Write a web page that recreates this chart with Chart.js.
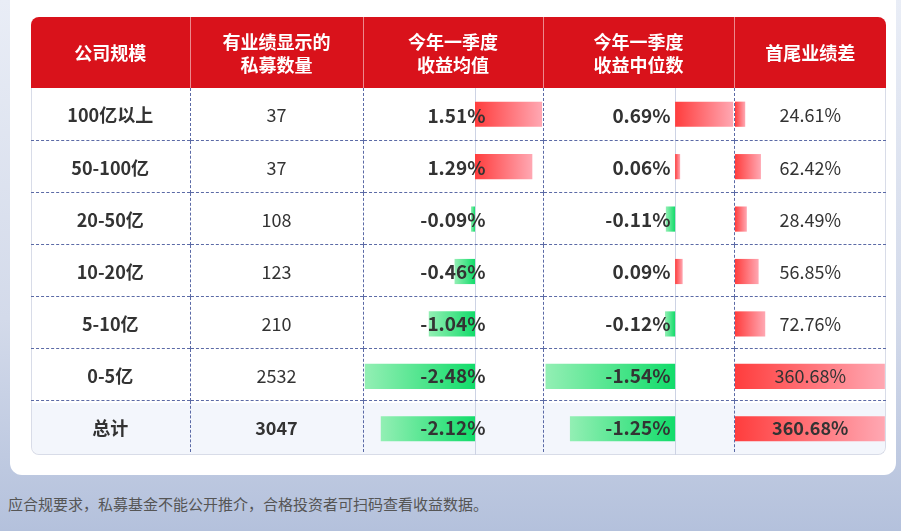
<!DOCTYPE html>
<html><head><meta charset="utf-8">
<script src="https://cdn.jsdelivr.net/npm/chart.js@4"></script>
<style>
body{margin:0;width:901px;height:531px;overflow:hidden;background:linear-gradient(180deg,#e9edf6 0%,#d3daea 60%,#b4c1dc 100%);font-family:"Noto Sans CJK SC","Noto Sans",sans-serif;position:relative}
#card{position:absolute;left:10px;top:-12px;width:886px;height:487px;background:#fff;border-radius:12px}
#head{position:absolute;left:31px;top:17px;width:855px;height:71px;background:#d9121b;border-radius:8px 8px 0 0}
#body{position:absolute;left:31px;top:88px;width:853px;height:366px;border:1px solid #d8dce8;border-top:none;border-radius:0 0 8px 8px}
#lastbg{position:absolute;left:32px;top:403px;width:853px;height:51px;background:#f3f6fc;border-radius:0 0 8px 8px}
canvas{position:absolute}
table{position:absolute;left:31px;top:17px;border-collapse:collapse;table-layout:fixed;z-index:3}
td,th{padding:0;text-align:center;font-size:18px;color:#333;height:51px}
th{color:#fff;font-weight:bold;height:71px;line-height:23px;font-size:18px;border-left:1px solid rgba(255,255,255,.5)}
th:first-child{border-left:none}
td{border-top:1px dashed #5b6aa6;border-left:1px dashed #5b6aa6}
tr:nth-child(2) td{border-top:none;height:52px}
td:first-child{border-left:none;font-weight:bold}
td.m{text-align:right;padding-right:57px;font-weight:bold;font-size:19px}
td.d{text-align:right;padding-right:63px;font-weight:bold;font-size:19px}
tr.total td{font-weight:bold}
#foot{position:absolute;left:8px;top:493px;font-size:15px;color:#555}
</style></head>
<body>
<div id="card"></div>
<div id="head"></div>
<div id="lastbg"></div>
<div id="body"></div>
<canvas id="c1" style="left:363px;top:88px;width:180px;height:367px;z-index:2"></canvas>
<canvas id="c2" style="left:543px;top:88px;width:191px;height:367px;z-index:2"></canvas>
<canvas id="c3" style="left:735px;top:88px;width:150px;height:367px;z-index:2"></canvas>
<table id="tbl"></table>
<div id="foot">应合规要求，私募基金不能公开推介，合格投资者可扫码查看收益数据。</div>
<script>
const headers = ["公司规模", "有业绩显示的<br>私募数量", "今年一季度<br>收益均值", "今年一季度<br>收益中位数", "首尾业绩差"];
const categories = ["100亿以上", "50-100亿", "20-50亿", "10-20亿", "5-10亿", "0-5亿", "总计"];
const counts = [37, 37, 108, 123, 210, 2532, 3047];
const meanReturn = [1.51, 1.29, -0.09, -0.46, -1.04, -2.48, -2.12];
const medianReturn = [0.69, 0.06, -0.11, 0.09, -0.12, -1.54, -1.25];
const spread = [24.61, 62.42, 28.49, 56.85, 72.76, 360.68, 360.68];
const colWidths = [159, 173, 180, 191, 152];

const tbl = document.getElementById("tbl");
let html = "<colgroup>" + colWidths.map(w => '<col style="width:' + w + 'px">').join("") + "</colgroup>";
html += "<tr>" + headers.map(h => "<th>" + h + "</th>").join("") + "</tr>";
categories.forEach((c, i) => {
  const last = i === categories.length - 1;
  html += '<tr' + (last ? ' class="total"' : '') + '><td>' + c + '</td><td>' + counts[i] + '</td>' +
    '<td class="m">' + meanReturn[i].toFixed(2) + '%</td><td class="d">' + medianReturn[i].toFixed(2) + '%</td>' +
    '<td>' + spread[i].toFixed(2) + '%</td></tr>';
});
tbl.innerHTML = html;

function fill(context) {
  const chart = context.chart;
  const v = context.raw;
  if (!chart.chartArea) return v >= 0 ? '#ff4b4b' : '#2fe07f';
  const x = chart.scales.x;
  const z = x.getPixelForValue(0), e = x.getPixelForValue(v);
  const g = chart.ctx.createLinearGradient(z, 0, e === z ? z + 1 : e, 0);
  if (v >= 0) { g.addColorStop(0, '#ff3d3d'); g.addColorStop(1, '#ffa8b3'); }
  else { g.addColorStop(0, '#12dc6a'); g.addColorStop(1, '#93efb4'); }
  return g;
}

const zeroLine = {
  id: 'zeroLine',
  beforeDatasetsDraw(chart, args, opts) {
    if (!opts.show) return;
    const x = Math.round(chart.scales.x.getPixelForValue(0)) + 0.5;
    const c = chart.ctx;
    c.save(); c.strokeStyle = '#cdd3e4'; c.lineWidth = 1;
    c.beginPath(); c.moveTo(x, 0); c.lineTo(x, chart.height); c.stroke(); c.restore();
  }
};

function makeChart(id, values, min, max, showZero) {
  new Chart(document.getElementById(id), {
    type: 'bar',
    data: { labels: categories, datasets: [{ data: values, backgroundColor: fill, barPercentage: 0.48, categoryPercentage: 1 }] },
    options: {
      indexAxis: 'y', responsive: false, animation: false,
      layout: { padding: 0 },
      plugins: { legend: { display: false }, tooltip: { enabled: false }, zeroLine: { show: showZero } },
      scales: { x: { display: false, min: min, max: max }, y: { display: false } }
    },
    plugins: [zeroLine]
  });
}
function sizeCanvas(id) {
  const c = document.getElementById(id);
  c.width = parseInt(c.style.width); c.height = parseInt(c.style.height);
}
["c1", "c2", "c3"].forEach(sizeCanvas);
makeChart("c1", meanReturn, -2.52, 1.53, true);
makeChart("c2", medianReturn, -1.57, 0.70, true);
makeChart("c3", spread, 0, 361, false);
</script>
</body></html>
